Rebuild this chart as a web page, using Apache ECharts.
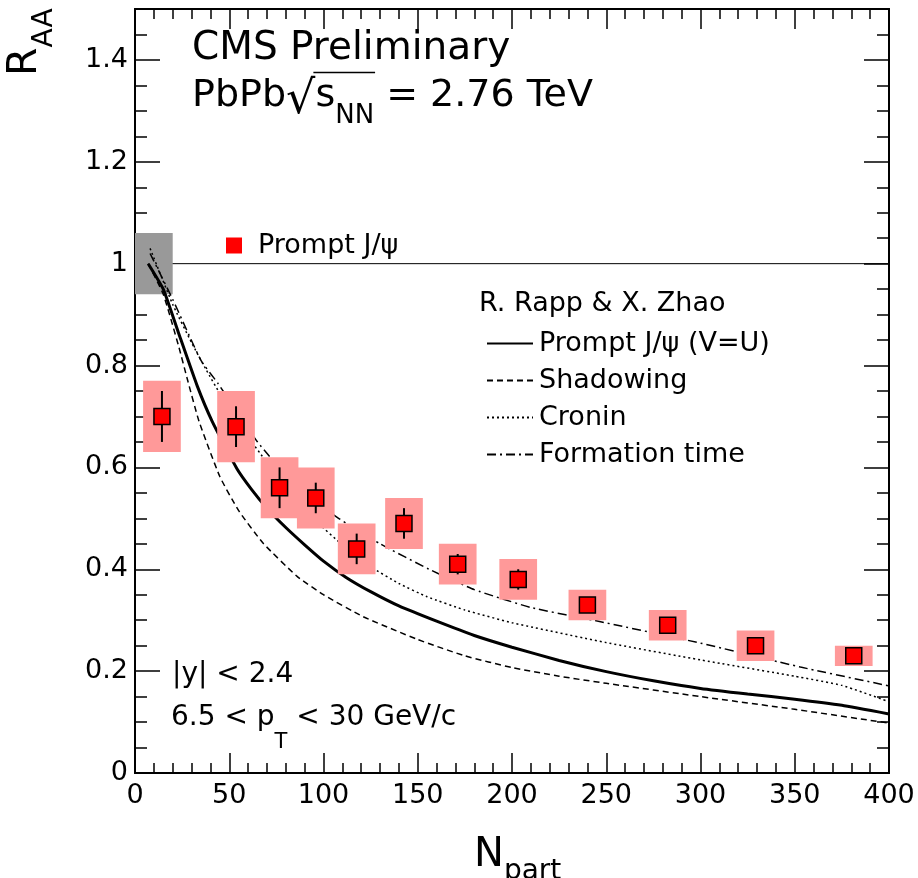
<!DOCTYPE html>
<html>
<head>
  <meta charset="utf-8">
  <title>CMS prompt J/psi RAA vs Npart</title>
  <script src="https://cdn.jsdelivr.net/npm/echarts@6/dist/echarts.min.js"></script>
</head>
<body style="margin:0">
<div id="main" style="width:918px;height:878px;"></div>
<script type="text/javascript">
  // CMS prompt J/psi points
  var npart   = [14.3, 53.6, 76.7, 95.9, 117.6, 142.7, 171.2, 203.3, 240.0, 282.6, 329.2, 381.3];
  var raa     = [0.70, 0.68, 0.56, 0.54, 0.44, 0.49, 0.41, 0.38, 0.33, 0.29, 0.25, 0.23];
  var statErr = [0.05, 0.04, 0.04, 0.03, 0.03, 0.03, 0.02, 0.02, 0.01, 0.01, 0.01, 0.01];
  var systErr = [0.07, 0.07, 0.06, 0.06, 0.05, 0.05, 0.04, 0.04, 0.03, 0.03, 0.03, 0.02];
  var systHalfWidth = 10;             // Npart half width of the syst. boxes
  var globalBox = [0, 20, 0.94, 1.06]; // xlow, xhigh, ylow, yhigh
  var unityLine = [[0, 1], [400, 1]];

  // R. Rapp & X. Zhao model curves [Npart, RAA]
  var curveVU = [[7,1.0],[15,0.95],[23,0.865],[33,0.76],[41,0.69],[54,0.598],[62,0.556],[70,0.52],[80,0.482],
                 [90,0.448],[100,0.416],[112,0.384],[125,0.356],[140,0.328],[160,0.298],[180,0.27],[200,0.247],
                 [225,0.221],[250,0.199],[275,0.181],[300,0.166],[325,0.155],[350,0.145],[375,0.133],[400,0.116]];
  var curveShadow = [[7,1.0],[15,0.94],[23,0.84],[28,0.77],[34,0.69],[45,0.582],[55,0.515],[68,0.451],[86,0.386],
                     [100,0.35],[121,0.307],[150,0.262],[175,0.23],[200,0.207],[225,0.19],[250,0.176],[300,0.15],
                     [350,0.125],[400,0.098]];
  var curveCronin = [[8,1.03],[20,0.92],[30,0.845],[38,0.79],[45,0.745],[57,0.675],[70,0.61],[96,0.495],[110,0.448],
                     [125,0.405],[140,0.372],[155,0.346],[175,0.32],[200,0.295],[250,0.256],[300,0.222],[350,0.19],
                     [375,0.172],[400,0.14]];
  var curveForm = [[8,1.02],[20,0.93],[35,0.81],[44,0.765],[65,0.65],[85,0.565],[108,0.50],[130,0.45],[156,0.40],
                   [180,0.36],[210,0.325],[247,0.297],[300,0.255],[353,0.208],[400,0.171]];

  var xTicks = {min: 0, max: 400, interval: 50};
  var FONT = 'DejaVu Sans';

  var pts = npart.map(function (x, i) { return [x, raa[i], statErr[i], systErr[i]]; });

  // measure text width for building sub/superscript runs
  var ctx = document.createElement('canvas').getContext('2d');
  function textW(s, size) { ctx.font = size + 'px "' + FONT + '"'; return ctx.measureText(s).width; }
  // parts: [text, fontSize, baselineShift]; returns elements + x positions after each part
  function runs(x0, base, parts) {
    var x = x0, els = [], xs = [];
    parts.forEach(function (p) {
      els.push({
        type: 'text', x: x, y: base + (p[2] || 0) - 0.35 * p[1],
        style: {text: p[0], fontSize: p[1], fontFamily: FONT, fill: '#000', align: 'left', verticalAlign: 'middle'}
      });
      x += textW(p[0], p[1]);
      xs.push(x);
    });
    return {els: els, xs: xs};
  }

  var t1 = runs(192, 63, [['CMS Preliminary', 39]]);
  var t2 = runs(192, 109, [['PbPb', 38], ['\u221A', 46, 8], ['s', 38], ['NN', 26, 16], [' = 2.76 TeV', 38]]);
  var tY = runs(172, 685, [['|y| < 2.4', 28]]);
  var tPt = runs(171, 728, [['6.5 < p', 28], ['T', 21, 22], [' < 30 GeV/c', 28]]);
  var tModel = runs(479, 313, [['R. Rapp & X. Zhao', 27]]);
  var tXname = runs(474, 870, [['N', 40], ['part', 28, 12]]);
  var tYname = runs(0, 0, [['R', 41], ['AA', 28, 15]]);

  var axisLineStyle = {show: true, onZero: false, lineStyle: {color: '#000', width: 2}};

  function xAx(pos, labels) {
    return {
      type: 'value', position: pos, min: xTicks.min, max: xTicks.max, interval: xTicks.interval,
      axisLine: axisLineStyle,
      axisTick: {inside: true, length: 20, lineStyle: {color: '#000', width: 1.5}},
      minorTick: {show: true, splitNumber: 5, length: 10, lineStyle: {color: '#000', width: 1.5}},
      splitLine: {show: false},
      axisLabel: {show: labels, color: '#000', fontSize: 27, fontFamily: FONT, margin: 9}
    };
  }
  function yAx(pos, interval, len, labels) {
    return {
      type: 'value', position: pos, min: 0, max: 1.5, interval: interval,
      axisLine: axisLineStyle,
      axisTick: {inside: true, length: len, lineStyle: {color: '#000', width: 1.5}},
      splitLine: {show: false},
      axisLabel: {show: labels, color: '#000', fontSize: 27, fontFamily: FONT, margin: 7, showMaxLabel: false}
    };
  }

  var chart = echarts.init(document.getElementById('main'));
  var lineBase = {type: 'line', symbol: 'none', smooth: 0.15, z: 3, silent: true};

  var option = {
    animation: false,
    backgroundColor: '#fff',
    grid: {left: 135, right: 29, top: 9, bottom: 105},
    xAxis: [xAx('bottom', true), xAx('top', false)],
    yAxis: [yAx('left', 0.2, 25, true), yAx('left', 0.05, 12, false),
            yAx('right', 0.2, 25, false), yAx('right', 0.05, 12, false)],
    legend: [
      {
        data: ['Prompt J/\u03C8'], left: 221, top: 227, itemWidth: 16, itemHeight: 16,
        selectedMode: false, itemStyle: {borderWidth: 0},
        textStyle: {fontSize: 27, fontFamily: FONT, color: '#000', padding: [0, 0, 0, 11]}
      },
      {
        data: ['Prompt J/\u03C8 (V=U)', 'Shadowing', 'Cronin', 'Formation time'],
        orient: 'vertical', left: 481, top: 325, itemWidth: 46, itemHeight: 14, itemGap: 10,
        selectedMode: false, itemStyle: {opacity: 0},
        textStyle: {fontSize: 27, fontFamily: FONT, color: '#000', padding: [0, 0, 0, 1]}
      }
    ],
    graphic: [].concat(
      t1.els, t2.els, tY.els, tPt.els, tModel.els, tXname.els,
      [{
        type: 'line', shape: {x1: t2.xs[1] - 2, y1: 72.5, x2: t2.xs[3] + 1, y2: 72.5},
        style: {stroke: '#000', lineWidth: 1.5}
      },
      {type: 'group', x: 40, y: 76, rotation: Math.PI / 2, children: tYname.els}]
    ),
    series: [
      {
        name: 'unity', type: 'line', data: unityLine, symbol: 'none', z: 1, silent: true,
        lineStyle: {color: '#000', width: 1}
      },
      {
        name: 'global', type: 'custom', z: 2, silent: true, data: [globalBox],
        encode: {x: [0, 1], y: [2, 3]},
        renderItem: function (params, api) {
          var p1 = api.coord([api.value(0), api.value(3)]);
          var p2 = api.coord([api.value(1), api.value(2)]);
          return {type: 'rect', shape: {x: p1[0], y: p1[1], width: p2[0] - p1[0], height: p2[1] - p1[1]},
                  style: {fill: '#999999'}};
        }
      },
      Object.assign({}, lineBase, {name: 'Prompt J/\u03C8 (V=U)', data: curveVU, lineStyle: {color: '#000', width: 3}}),
      Object.assign({}, lineBase, {name: 'Shadowing', data: curveShadow, lineStyle: {color: '#000', width: 1.5, type: [6, 4]}}),
      Object.assign({}, lineBase, {name: 'Cronin', data: curveCronin, lineStyle: {color: '#000', width: 1.5, type: [2, 3]}}),
      Object.assign({}, lineBase, {name: 'Formation time', data: curveForm, lineStyle: {color: '#000', width: 1.5, type: [9, 4, 2, 4]}}),
      {
        name: 'syst', type: 'custom', z: 4, silent: true, data: pts, encode: {x: 0, y: 1},
        renderItem: function (params, api) {
          var x = api.value(0), y = api.value(1), e = api.value(3);
          var p1 = api.coord([x - systHalfWidth, y + e]);
          var p2 = api.coord([x + systHalfWidth, y - e]);
          return {type: 'rect', shape: {x: p1[0], y: p1[1], width: p2[0] - p1[0], height: p2[1] - p1[1]},
                  style: {fill: '#ff9999'}};
        }
      },
      {
        name: 'stat', type: 'custom', z: 5, silent: true, data: pts, encode: {x: 0, y: 1},
        renderItem: function (params, api) {
          var x = api.value(0), y = api.value(1), e = api.value(2);
          var lo = api.coord([x, y - e]), hi = api.coord([x, y + e]);
          return {type: 'line', shape: {x1: lo[0], y1: lo[1], x2: hi[0], y2: hi[1]},
                  style: {stroke: '#000', lineWidth: 2}};
        }
      },
      {
        name: 'Prompt J/\u03C8', type: 'scatter', z: 6, symbol: 'rect', symbolSize: 16,
        data: pts.map(function (p) { return [p[0], p[1]]; }),
        itemStyle: {color: '#ff0000', borderColor: '#000', borderWidth: 1.5, opacity: 1}
      }
    ]
  };

  chart.setOption(option);
</script>
</body>
</html>
